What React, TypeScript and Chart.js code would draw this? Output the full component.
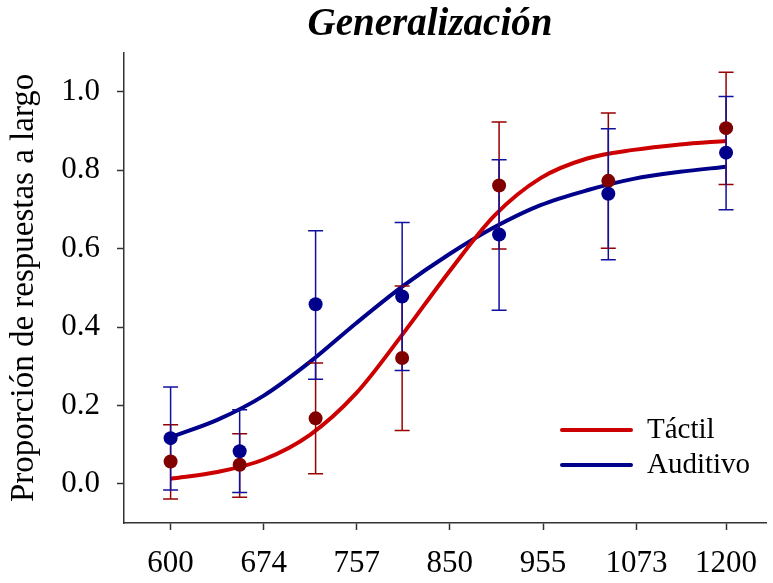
import { useEffect, useRef } from 'react';
import { Chart, registerables } from 'chart.js';

Chart.register(...registerables);

const TITLE = 'Generalización';
const Y_TITLE = 'Proporción de respuestas a largo';
const SERIES_NAMES = ['Táctil', 'Auditivo'];

const xTicks = [600, 674, 757, 850, 955, 1073, 1200];
const xTickLabels = ['600', '674', '757', '850', '955', '1073', '1200'];
const yTicks = [0, 0.2, 0.4, 0.6, 0.8, 1.0];

// stimulus durations (ms) of the observed points
const stimX = [600, 654, 719, 801, 904, 1036, 1200];

const tactilMean = [0.057, 0.0485, 0.167, 0.321, 0.761, 0.773, 0.9075];
const tactilLow = [-0.039, -0.034, 0.0255, 0.136, 0.599, 0.601, 0.764];
const tactilHigh = [0.151, 0.128, 0.308, 0.505, 0.923, 0.946, 1.05];

const auditivoMean = [0.1165, 0.083, 0.458, 0.478, 0.636, 0.74, 0.845];
const auditivoLow = [-0.016, -0.022, 0.267, 0.289, 0.443, 0.572, 0.699];
const auditivoHigh = [0.247, 0.189, 0.646, 0.667, 0.827, 0.906, 0.988];

// fitted curves
const curveX = [600, 636, 674, 714, 756, 801, 849, 899, 952, 1009, 1069, 1133, 1200];
const tactilCurve = [0.013, 0.03, 0.062, 0.125, 0.23, 0.38, 0.54, 0.685, 0.78, 0.83, 0.852, 0.866, 0.875];
const auditivoCurve = [0.119, 0.163, 0.225, 0.311, 0.409, 0.503, 0.585, 0.655, 0.711, 0.749, 0.778, 0.796, 0.809];

const FONT = "'Liberation Serif', 'Times New Roman', serif";
const RED_LINE = '#cc0000';
const BLUE_LINE = '#00008b';
const RED_PT = '#800000';
const BLUE_PT = '#00008b';
const RED_BAR = '#990000';
const BLUE_BAR = '#1010a0';
const AXIS = '#333333';

const toXY = (xs: number[], ys: number[]) => xs.map((x, i) => ({ x, y: ys[i] }));

const customPlugin = {
  id: 'customDecor',
  beforeDatasetDraw(chart: any, args: any) {
    if (args.index !== 1) return;
    const ctx = chart.ctx;
    const xs = chart.scales.x;
    const ys = chart.scales.y;
    const drawBars = (lows: number[], highs: number[], color: string) => {
      ctx.save();
      ctx.strokeStyle = color;
      ctx.lineWidth = 1.5;
      ctx.beginPath();
      stimX.forEach((v, i) => {
        const px = xs.getPixelForValue(v);
        const pl = ys.getPixelForValue(lows[i]);
        const ph = ys.getPixelForValue(highs[i]);
        ctx.moveTo(px, pl);
        ctx.lineTo(px, ph);
        ctx.moveTo(px - 7.5, pl);
        ctx.lineTo(px + 7.5, pl);
        ctx.moveTo(px - 7.5, ph);
        ctx.lineTo(px + 7.5, ph);
      });
      ctx.stroke();
      ctx.restore();
    };
    drawBars(tactilLow, tactilHigh, RED_BAR);
    drawBars(auditivoLow, auditivoHigh, BLUE_BAR);
  },
  afterDraw(chart: any) {
    const ctx = chart.ctx;
    const ca = chart.chartArea;
    ctx.save();
    // title
    ctx.fillStyle = '#000';
    ctx.font = `italic bold 39px ${FONT}`;
    ctx.textAlign = 'center';
    ctx.textBaseline = 'alphabetic';
    ctx.fillText(TITLE, (ca.left + ca.right) / 2 - 15, 35);
    // legend
    const colors = [RED_LINE, BLUE_LINE];
    const x0 = ca.right - 204;
    const x1 = ca.right - 135;
    SERIES_NAMES.forEach((name, i) => {
      const y = ca.bottom - 93 + i * 35;
      ctx.strokeStyle = colors[i];
      ctx.lineWidth = 4;
      ctx.lineCap = 'round';
      ctx.beginPath();
      ctx.moveTo(x0, y);
      ctx.lineTo(x1, y);
      ctx.stroke();
      ctx.fillStyle = '#000';
      ctx.font = `29px ${FONT}`;
      ctx.textAlign = 'left';
      ctx.textBaseline = 'middle';
      ctx.fillText(name, ca.right - 119, y);
    });
    ctx.restore();
  },
};

export default function App() {
  const ref = useRef<HTMLCanvasElement | null>(null);
  useEffect(() => {
    if (!ref.current) return;
    const chart = new Chart(ref.current, {
      type: 'scatter',
      data: {
        datasets: [
          {
            label: SERIES_NAMES[1] + ' datos',
            data: toXY(stimX, auditivoMean),
            showLine: false,
            pointRadius: 7,
            pointHoverRadius: 7,
            pointBackgroundColor: BLUE_PT,
            pointBorderWidth: 0,
            borderColor: BLUE_PT,
          },
          {
            label: SERIES_NAMES[0] + ' datos',
            data: toXY(stimX, tactilMean),
            showLine: false,
            pointRadius: 7,
            pointHoverRadius: 7,
            pointBackgroundColor: RED_PT,
            pointBorderWidth: 0,
            borderColor: RED_PT,
          },
          {
            label: SERIES_NAMES[0],
            data: toXY(curveX, tactilCurve),
            showLine: true,
            pointRadius: 0,
            borderColor: RED_LINE,
            borderWidth: 4,
            cubicInterpolationMode: 'monotone',
          },
          {
            label: SERIES_NAMES[1],
            data: toXY(curveX, auditivoCurve),
            showLine: true,
            pointRadius: 0,
            borderColor: BLUE_LINE,
            borderWidth: 4,
            cubicInterpolationMode: 'monotone',
          },
        ],
      },
      options: {
        animation: false,
        responsive: true,
        maintainAspectRatio: false,
        devicePixelRatio: 1,
        layout: { padding: { top: 52.7, right: 1, left: 0, bottom: 0 } },
        plugins: {
          legend: { display: false },
          title: { display: false },
          tooltip: { enabled: false },
        },
        scales: {
          x: {
            type: 'logarithmic',
            position: 'bottom',
            min: 566.1,
            max: 1261.3,
            afterBuildTicks: (scale: any) => {
              scale.ticks = xTicks.map((v) => ({ value: v }));
            },
            afterFit: (scale: any) => {
              scale.height = 60;
            },
            border: { display: true, color: AXIS, width: 1.5 },
            grid: {
              display: true,
              drawOnChartArea: false,
              drawTicks: true,
              tickLength: 7,
              tickWidth: 1.5,
              tickColor: AXIS,
            },
            ticks: {
              autoSkip: false,
              maxRotation: 0,
              padding: 15,
              color: '#000',
              font: { family: FONT, size: 31 },
              callback: (_v: any, i: number) => xTickLabels[i],
            },
          },
          y: {
            type: 'linear',
            min: -0.1,
            max: 1.1,
            afterBuildTicks: (scale: any) => {
              scale.ticks = yTicks.map((v) => ({ value: v }));
            },
            afterFit: (scale: any) => {
              scale.width = 124;
            },
            border: { display: true, color: AXIS, width: 1.5 },
            grid: {
              display: true,
              drawOnChartArea: false,
              drawTicks: true,
              tickLength: 7,
              tickWidth: 1.5,
              tickColor: AXIS,
            },
            ticks: {
              padding: 17,
              color: '#000',
              font: { family: FONT, size: 31 },
              callback: (v: any) => Number(v).toFixed(1),
            },
            title: {
              display: true,
              text: Y_TITLE,
              color: '#000',
              font: { family: FONT, size: 33 },
              padding: { top: 5, bottom: 0 },
            },
          },
        },
      } as any,
      plugins: [customPlugin],
    });
    return () => chart.destroy();
  }, []);
  return (
    <div style={{ position: 'absolute', left: 0, top: 0, width: 773, height: 583 }}>
      <canvas ref={ref} />
    </div>
  );
}
